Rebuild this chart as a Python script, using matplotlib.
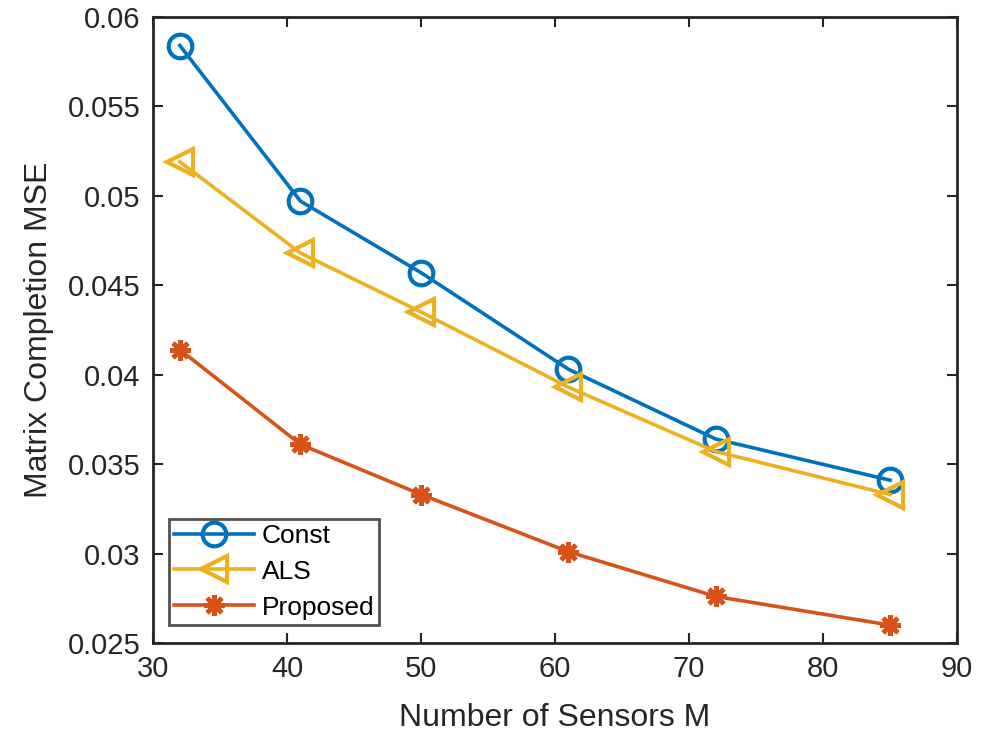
import numpy as np
import matplotlib.pyplot as plt

plt.rcParams['font.family'] = ['Liberation Sans', 'DejaVu Sans']

sensors = [32, 41, 50, 61, 72, 85]
mse_const = [0.0584, 0.0497, 0.0457, 0.0403, 0.0364, 0.0341]
mse_als = [0.0519, 0.0468, 0.0435, 0.0393, 0.0357, 0.0333]
mse_proposed = [0.0414, 0.0361, 0.0333, 0.0301, 0.0276, 0.0260]

fig = plt.figure(figsize=(9.97, 7.34), dpi=100)
ax = fig.add_axes([0.1535, 0.124, 0.8065, 0.853])

ax.plot(sensors, mse_const, color='#0072BD', lw=2.6, marker='o', ms=17,
        mfc='none', mew=3, label='Const')
ax.plot(sensors, mse_als, color='#EDB120', lw=2.6, marker='<', ms=19,
        mfc='none', mew=3, label='ALS')
ax.plot(sensors, mse_proposed, color='#D95319', lw=2.6, marker=(8, 2, 0), ms=15,
        mew=3.2, label='Proposed')

ax.set_xlim(30, 90)
ax.set_ylim(0.025, 0.06)
ax.set_xticks(np.arange(30, 91, 10))
ax.set_yticks(np.arange(0.025, 0.0601, 0.005))
ax.set_yticklabels(['0.025', '0.03', '0.035', '0.04', '0.045', '0.05', '0.055', '0.06'])
ax.tick_params(direction='in', top=True, right=True, labelsize=21, length=7, width=1.5,
               colors='#262626')
ax.tick_params(axis='x', pad=9)
ax.tick_params(axis='y', pad=9)
for s in ax.spines.values():
    s.set_linewidth(2)
    s.set_color('#262626')

ax.set_xlabel('Number of Sensors M', fontsize=23, color='#262626', labelpad=14)
ax.set_ylabel('Matrix Completion MSE', fontsize=23, color='#262626', labelpad=10)

leg = ax.legend(loc='lower left', bbox_to_anchor=(0.02, 0.029), fontsize=19,
                fancybox=False, edgecolor='#262626', handlelength=3,
                borderpad=0.2, labelspacing=0.45, handletextpad=0.3, borderaxespad=0)
leg.get_frame().set_linewidth(2)

fig.savefig('out.png', dpi=100)
